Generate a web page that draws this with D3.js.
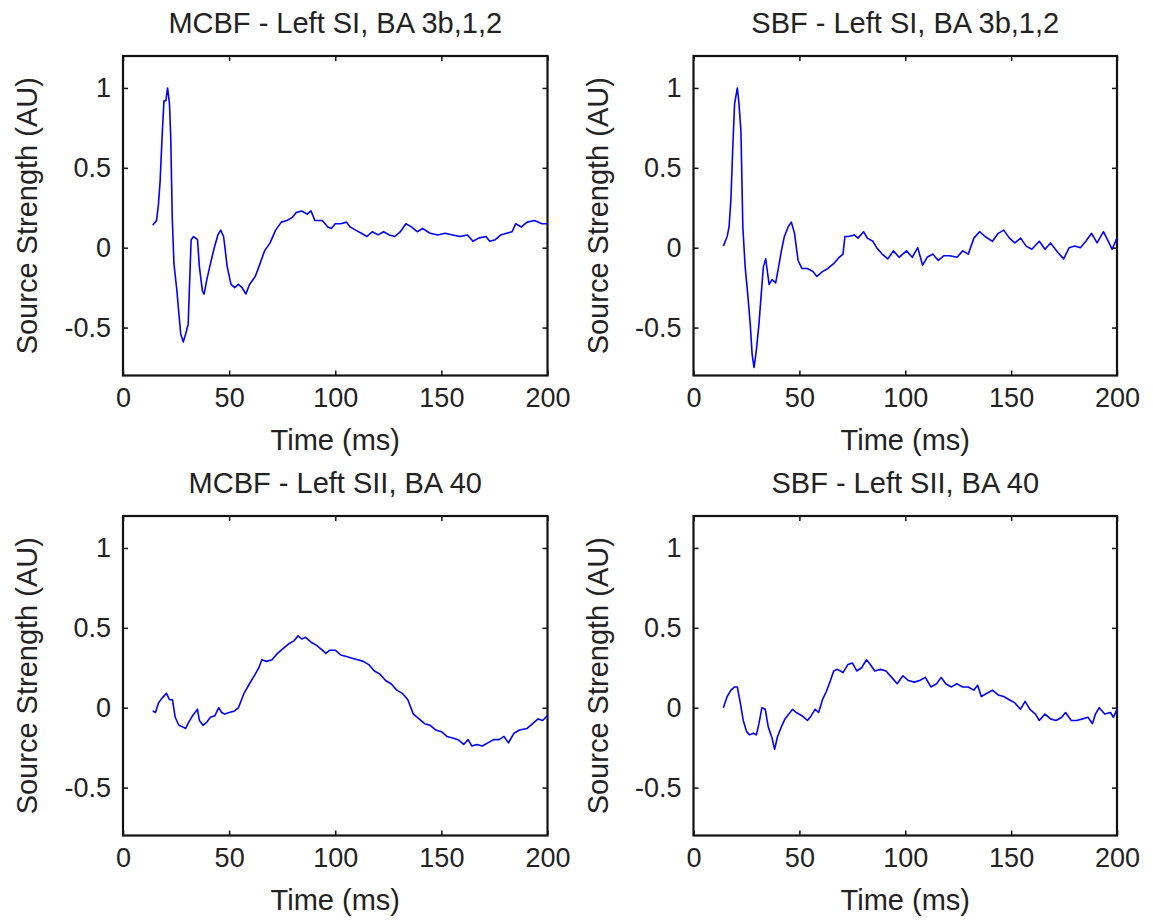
<!DOCTYPE html>
<html>
<head>
<meta charset="utf-8">
<script src="https://cdn.jsdelivr.net/npm/d3@7"></script>
<style>
  body { margin: 0; background: #fff; }
  svg text { font-family: "Liberation Sans", Arial, sans-serif; fill: #222; }
</style>
</head>
<body>
<svg id="chart" width="1153" height="920"></svg>
<script>

// Tick labels shared by all four panels
var xTicks = [0, 50, 100, 150, 200];
var yTicks = [-0.5, 0, 0.5, 1];

// MCBF - Left SI (time in ms, source strength in AU)
var mcbfSiTime = [14, 15.8, 16.7, 17.5, 18.4, 19.3, 20.2, 21, 21.9, 22.5, 23.2, 24, 25.4, 26.3, 27.2, 28.4, 29.5, 30.7, 31.2, 32.1, 33.3, 35.1, 36, 37.4, 38.2, 39.5, 41.2, 43, 44.7, 46, 47.4, 49.1, 50.9, 52.6, 54.4, 56.1, 57.9, 59.6, 62.3, 64, 66.7, 69.3, 71.9, 74.6, 77.2, 79.8, 81.6, 84.2, 86.8, 88.6, 90.4, 93.9, 96.5, 98.2, 100, 102.6, 105.3, 107, 109.6, 112.3, 114.9, 117.5, 120.2, 122.8, 125.4, 128.1, 130.7, 133.3, 135.9, 138.6, 141.2, 144.7, 148.2, 151.8, 155.3, 158.8, 162.3, 164.9, 167.5, 171, 172.8, 175.4, 178, 180.7, 183.3, 185, 187.7, 190.4, 193.9, 197.4, 200];
var mcbfSiValues = [0.14, 0.17, 0.27, 0.42, 0.69, 0.92, 0.92, 1.0, 0.9, 0.69, 0.19, -0.1, -0.27, -0.41, -0.54, -0.59, -0.54, -0.48, -0.29, 0.05, 0.07, 0.05, -0.12, -0.27, -0.29, -0.2, -0.1, 0.0, 0.08, 0.11, 0.07, -0.12, -0.23, -0.25, -0.23, -0.25, -0.29, -0.23, -0.18, -0.12, -0.02, 0.03, 0.11, 0.16, 0.17, 0.19, 0.22, 0.23, 0.21, 0.23, 0.17, 0.17, 0.13, 0.12, 0.15, 0.15, 0.16, 0.13, 0.11, 0.09, 0.07, 0.10, 0.08, 0.10, 0.08, 0.07, 0.10, 0.15, 0.13, 0.10, 0.12, 0.09, 0.08, 0.09, 0.08, 0.07, 0.08, 0.04, 0.06, 0.07, 0.04, 0.05, 0.08, 0.09, 0.10, 0.15, 0.13, 0.16, 0.17, 0.15, 0.15];

// SBF - Left SI
var sbfSiTime = [14.1, 15.9, 16.8, 17.7, 18.5, 19.4, 20.7, 21.5, 22.4, 23.3, 24.4, 25.6, 26.8, 27.7, 28.6, 29.7, 30.9, 32.1, 33, 34.1, 35, 35.7, 37.1, 38.8, 40.2, 41.5, 42.9, 44.7, 46.2, 47.7, 49.4, 51.2, 53.8, 56.5, 58.3, 60.9, 63.5, 66.2, 68.8, 70.6, 71.5, 73.3, 75.9, 77.7, 80.3, 82.1, 84.7, 86.5, 89.1, 91.8, 94.4, 97.1, 100.6, 103.3, 105.9, 108.2, 110.3, 113, 115.6, 118.3, 121, 124.5, 127.1, 129.8, 132.4, 135.1, 137.7, 141.2, 143.9, 146.5, 149.2, 151.8, 154.5, 157.1, 159.8, 163.3, 166, 168.6, 172.1, 174.8, 177.4, 180.1, 182.7, 185.3, 188, 190.6, 193.6, 195.9, 197.7, 200];
var sbfSiValues = [0.01, 0.07, 0.13, 0.31, 0.61, 0.90, 1.0, 0.9, 0.73, 0.13, -0.12, -0.29, -0.48, -0.67, -0.75, -0.64, -0.48, -0.27, -0.12, -0.07, -0.16, -0.23, -0.20, -0.22, -0.12, -0.02, 0.07, 0.13, 0.16, 0.09, -0.08, -0.13, -0.13, -0.15, -0.18, -0.15, -0.13, -0.10, -0.06, -0.04, 0.07, 0.07, 0.08, 0.06, 0.10, 0.06, 0.04, 0.00, -0.04, -0.07, -0.02, -0.06, -0.02, -0.06, 0.00, -0.11, -0.06, -0.04, -0.08, -0.05, -0.05, -0.06, -0.02, -0.04, 0.06, 0.10, 0.07, 0.04, 0.09, 0.11, 0.06, 0.03, 0.06, 0.01, -0.01, 0.04, -0.01, 0.03, -0.03, -0.07, 0.00, 0.01, 0.00, 0.04, 0.09, 0.03, 0.10, 0.04, -0.01, 0.06];

// MCBF - Left SII
var mcbfSiiTime = [14, 15.3, 16.7, 18.4, 20.5, 21.9, 23.3, 24.6, 26.3, 28.1, 29.5, 31, 32.8, 35.1, 36, 37.7, 39.5, 41.2, 43.3, 45.1, 46.5, 47.9, 50, 52.6, 54.4, 57, 59.6, 62.3, 64, 65.4, 67.5, 70.2, 72.8, 75.4, 78.1, 80.7, 82.5, 84.2, 86, 88.6, 91.2, 93.9, 95.6, 97.4, 100, 102.6, 105.3, 107.9, 110.5, 113.2, 115.8, 118.4, 121.1, 123.7, 126.3, 129, 131.6, 134.2, 136.8, 139.5, 142.1, 144.7, 147.4, 150, 152.6, 155.3, 157.9, 160.5, 162.6, 164.4, 166.7, 169.3, 171.9, 174.6, 177.2, 179.5, 181.6, 184.2, 186.8, 190.4, 193, 195.6, 197.7, 200];
var mcbfSiiValues = [-0.02, -0.03, 0.03, 0.06, 0.09, 0.05, 0.05, -0.06, -0.11, -0.12, -0.13, -0.09, -0.05, -0.01, -0.08, -0.11, -0.09, -0.06, -0.05, 0.00, -0.03, -0.04, -0.03, -0.02, 0.00, 0.09, 0.15, 0.21, 0.25, 0.30, 0.29, 0.30, 0.34, 0.37, 0.40, 0.42, 0.45, 0.43, 0.44, 0.41, 0.39, 0.36, 0.34, 0.36, 0.36, 0.33, 0.32, 0.31, 0.30, 0.29, 0.27, 0.23, 0.21, 0.17, 0.15, 0.11, 0.09, 0.05, -0.04, -0.07, -0.10, -0.11, -0.14, -0.15, -0.18, -0.19, -0.20, -0.23, -0.20, -0.24, -0.23, -0.24, -0.22, -0.20, -0.20, -0.18, -0.22, -0.16, -0.14, -0.13, -0.10, -0.07, -0.08, -0.05];

// SBF - Left SII
var sbfSiiTime = [14.1, 15.9, 17.7, 19.4, 20.7, 22.1, 23.5, 25.1, 26.5, 28.2, 29.7, 30.9, 32.3, 33.9, 35.3, 37.1, 38.3, 39.7, 41.5, 43.2, 45, 46.8, 48.5, 51.2, 53.8, 55.6, 57.4, 59.1, 60.9, 62.7, 64.4, 66.2, 68, 70.6, 72.9, 75, 77.1, 79.4, 81.7, 83.5, 85.6, 88.3, 90.9, 93.6, 96.2, 98.9, 101.5, 104.2, 106.8, 109.5, 112.1, 114.8, 117, 119.1, 121.8, 124.4, 127.1, 129.7, 132.4, 134.2, 135.9, 138.6, 141.2, 143.9, 146.5, 149.1, 151.8, 154.4, 156.6, 158.9, 161.5, 163.3, 166, 168.6, 171.2, 173.9, 175.7, 178.4, 181, 183.7, 186.3, 188.4, 189.8, 191.6, 194.2, 196.9, 198.3, 200];
var sbfSiiValues = [0.00, 0.07, 0.11, 0.13, 0.13, 0.03, -0.08, -0.15, -0.17, -0.16, -0.17, -0.10, 0.00, -0.01, -0.12, -0.19, -0.26, -0.18, -0.12, -0.07, -0.04, -0.01, -0.03, -0.05, -0.08, -0.05, -0.01, -0.03, 0.05, 0.10, 0.16, 0.23, 0.24, 0.22, 0.27, 0.28, 0.23, 0.25, 0.30, 0.27, 0.23, 0.24, 0.23, 0.19, 0.15, 0.20, 0.17, 0.16, 0.17, 0.19, 0.13, 0.15, 0.19, 0.15, 0.13, 0.15, 0.13, 0.13, 0.11, 0.14, 0.07, 0.09, 0.11, 0.08, 0.07, 0.05, 0.03, -0.01, 0.04, -0.01, -0.04, -0.08, -0.04, -0.07, -0.08, -0.06, -0.03, -0.08, -0.08, -0.07, -0.06, -0.10, -0.04, 0.00, -0.04, -0.03, -0.06, -0.01];

var titles = ['MCBF - Left SI, BA 3b,1,2', 'SBF - Left SI, BA 3b,1,2', 'MCBF - Left SII, BA 40', 'SBF - Left SII, BA 40'];
var xLabel = 'Time (ms)';
var yLabel = 'Source Strength (AU)';

var svg = d3.select('#chart');

// panel boxes in the 2x2 grid
var panels = [
	{ title: titles[0], time: mcbfSiTime, values: mcbfSiValues, left: 123, right: 547.5, top: 56, bottom: 375.5 },
	{ title: titles[1], time: sbfSiTime, values: sbfSiValues, left: 693.5, right: 1117, top: 56, bottom: 375.5 },
	{ title: titles[2], time: mcbfSiiTime, values: mcbfSiiValues, left: 123, right: 547.5, top: 516, bottom: 835.5 },
	{ title: titles[3], time: sbfSiiTime, values: sbfSiiValues, left: 693.5, right: 1117, top: 516, bottom: 835.5 }
];

var drawPanel = function(p) {

	var x = d3.scaleLinear().domain([0, 200]).range([p.left, p.right]);
	var y = d3.scaleLinear().domain([-0.8, 1.2]).range([p.bottom, p.top]);

	var g = svg.append('g');

	// axes with inward ticks on all four sides
	var bottomAxis = g.append('g').attr('transform', 'translate(0,' + p.bottom + ')')
			.call(d3.axisBottom(x).tickValues(xTicks).tickSizeInner(-5).tickSizeOuter(0).tickPadding(12).tickFormat(function(d) { return String(d); }));
	var leftAxis = g.append('g').attr('transform', 'translate(' + p.left + ',0)')
			.call(d3.axisLeft(y).tickValues(yTicks).tickSizeInner(-5).tickSizeOuter(0).tickPadding(12).tickFormat(function(d) { return String(d); }));
	var topAxis = g.append('g').attr('transform', 'translate(0,' + p.top + ')')
			.call(d3.axisTop(x).tickValues(xTicks).tickSizeInner(-5).tickSizeOuter(0).tickFormat(''));
	var rightAxis = g.append('g').attr('transform', 'translate(' + p.right + ',0)')
			.call(d3.axisRight(y).tickValues(yTicks).tickSizeInner(-5).tickSizeOuter(0).tickFormat(''));

	[bottomAxis, leftAxis, topAxis, rightAxis].forEach(function(a) {
		a.select('.domain').remove();
		a.selectAll('line').attr('stroke', '#111').attr('stroke-width', 1.5);
		a.selectAll('text').attr('font-size', 27).style('fill', '#222');
	});
	bottomAxis.selectAll('text').attr('dy', '0.71em');

	// box
	g.append('rect')
			.attr('x', p.left).attr('y', p.top)
			.attr('width', p.right - p.left).attr('height', p.bottom - p.top)
			.attr('fill', 'none').attr('stroke', '#111').attr('stroke-width', 2.2);

	// trace
	var line = d3.line()
			.x(function(d, i) { return x(p.time[i]); })
			.y(function(d) { return y(d); });

	g.append('path').datum(p.values)
			.attr('fill', 'none')
			.attr('stroke', '#0000ff')
			.attr('stroke-width', 1.6)
			.attr('stroke-linejoin', 'round')
			.attr('d', line);

	// title and axis labels
	var cx = (p.left + p.right) / 2;
	g.append('text').attr('x', cx).attr('y', p.top - 23)
			.attr('text-anchor', 'middle').attr('font-size', 29).text(p.title);
	g.append('text').attr('x', cx).attr('y', p.bottom + 74)
			.attr('text-anchor', 'middle').attr('font-size', 29).text(xLabel);
	g.append('text')
			.attr('transform', 'translate(' + (p.left - 86) + ',' + ((p.top + p.bottom) / 2) + ') rotate(-90)')
			.attr('text-anchor', 'middle').attr('font-size', 29).text(yLabel);
};

panels.forEach(drawPanel);

</script>
</body>
</html>
